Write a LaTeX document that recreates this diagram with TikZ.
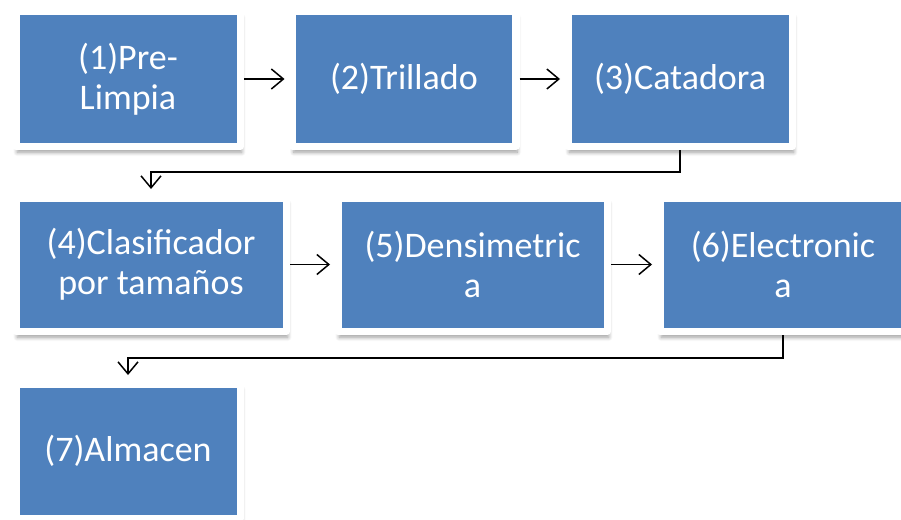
\documentclass[tikz,border=0pt]{standalone}
\usepackage{fontspec}
\setmainfont{Carlito}
\usetikzlibrary{arrows.meta,shadows.blur,calc}
\definecolor{boxblue}{HTML}{4F81BD}
\tikzset{
  stepbox/.style={draw=white, line width=7.5pt, line join=round, fill=boxblue,
    text=white, align=center, inner sep=0pt,
    font=\fontsize{36}{40}\selectfont,
    blur shadow={shadow xshift=1.5pt, shadow yshift=-6pt, shadow blur steps=8, shadow blur radius=4pt, shadow opacity=40}},
  conn/.style={line width=1.5pt, -{Straight Barb[length=12pt,width=20pt,line width=1.5pt]}},
}
\begin{document}
\begin{tikzpicture}[x=1pt,y=1pt]
\useasboundingbox (0,0) rectangle (901,-519);
\node[stepbox, minimum width=224.5pt, minimum height=134.5pt] (n1) at (128,-79) {(1)Pre-\\Limpia};
\node[stepbox, minimum width=223.5pt, minimum height=134.5pt] (n2) at (404,-79) {(2)Trillado};
\node[stepbox, minimum width=224.5pt, minimum height=134.5pt] (n3) at (680,-79) {(3)Catadora};
\node[stepbox, minimum width=270.5pt, minimum height=133.5pt] (n4) at (151,-264.5) {(4)Clasificador\\por tamaños};
\node[stepbox, minimum width=269.5pt, minimum height=133.5pt] (n5) at (472.5,-264.5) {(5)Densimetric\\a};
\node[stepbox, minimum width=246.5pt, minimum height=133.5pt] (n6) at (783,-264.5) {(6)Electronic\\a};
\node[stepbox, minimum width=224.5pt, minimum height=134.5pt] (n7) at (128,-451) {(7)Almacen};
\draw[conn, shorten >=4pt] (n1) -- (n2);
\draw[conn, shorten >=4pt] (n2) -- (n3);
\draw[conn, shorten >=4pt] (n4) -- (n5);
\draw[conn, shorten >=4pt] (n5) -- (n6);
\draw[conn, shorten >=5pt] (n3.south) -- ++(0,-22) -| (n4.north);
\draw[conn, shorten >=5pt] (n6.south) -- ++(0,-23) -| (n7.north);
\end{tikzpicture}
\end{document}
